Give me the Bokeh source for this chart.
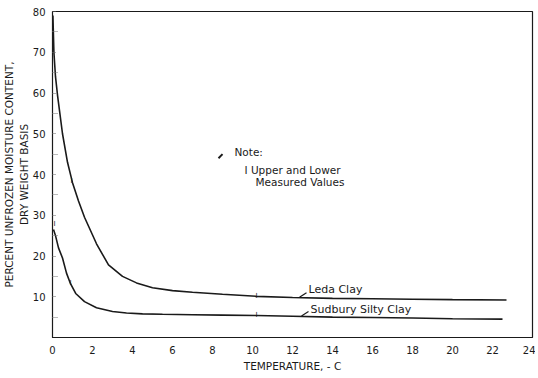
from bokeh.plotting import figure
from bokeh.models import FixedTicker, Label
from bokeh.core.properties import value
from bokeh.embed import file_html
from bokeh.resources import INLINE

# ---- data ----
leda_x = [0.02, 0.07, 0.15, 0.25, 0.5, 0.75, 1.0, 1.3, 1.6, 2.2, 2.8, 3.5, 4.2, 5.0,
          6.0, 7.0, 8.5, 10.2, 12, 14, 16, 18, 20, 22.7]
leda_y = [79, 70, 64, 59.5, 50, 43, 38, 33.5, 29.5, 23, 17.8, 15.0, 13.4, 12.2,
          11.5, 11.1, 10.6, 10.1, 9.8, 9.6, 9.5, 9.4, 9.3, 9.2]

sud_x = [0.05, 0.15, 0.3, 0.5, 0.7, 0.9, 1.16, 1.6, 2.2, 3.0, 3.7, 4.5, 5.5, 7,
         8.5, 10.2, 12, 14, 16, 18, 20, 22.5]
sud_y = [26.5, 25, 22, 19.5, 15.8, 13.2, 10.8, 8.8, 7.3, 6.4, 6.0, 5.8, 5.7, 5.6,
         5.5, 5.4, 5.2, 5.0, 4.9, 4.8, 4.6, 4.5]

# upper/lower measured value marks
bar_x = [0.1, 0.95, 0.9, 10.2, 10.2]
bar_y = [27.8, 38.5, 13.3, 10.1, 5.4]

x_ticks = [0, 2, 4, 6, 8, 10, 12, 14, 16, 18, 20, 22, 24]
y_ticks = [10, 20, 30, 40, 50, 60, 70, 80]
y_minor = [5, 15, 25, 35, 45, 55, 65, 75]

FONT = "DejaVu Sans"
INK = "#1a1a1a"

p = figure(width=535, height=374, x_range=(0, 24), y_range=(0, 80),
           output_backend="svg", toolbar_location=None,
           min_border_left=51, min_border_right=3, min_border_top=11,
           min_border_bottom=36)
p.grid.visible = False
p.outline_line_color = INK
p.outline_line_width = 1.2
p.background_fill_color = "white"
p.border_fill_color = "white"

# x axis
xa = p.xaxis[0]
xa.ticker = FixedTicker(ticks=x_ticks)
xa.axis_label = "TEMPERATURE, - C"
xa.axis_label_text_font = FONT
xa.axis_label_text_font_size = "10.5px"
xa.axis_label_text_font_style = "normal"
xa.axis_label_text_color = INK
xa.axis_label_standoff = 3
xa.major_label_text_font = FONT
xa.major_label_text_font_size = "10px"
xa.major_label_text_color = INK
xa.major_label_standoff = 8
xa.major_tick_in = 0
xa.major_tick_out = 0
xa.minor_tick_in = 0
xa.minor_tick_out = 0
xa.axis_line_color = INK

# y axis
ya = p.yaxis[0]
ya.ticker = FixedTicker(ticks=y_ticks, minor_ticks=y_minor)
ya.axis_label = "PERCENT UNFROZEN MOISTURE CONTENT,\nDRY WEIGHT BASIS"
ya.axis_label_text_font = FONT
ya.axis_label_text_font_size = "10.5px"
ya.axis_label_text_font_style = "normal"
ya.axis_label_text_color = INK
ya.axis_label_standoff = 0
ya.major_label_text_font = FONT
ya.major_label_text_font_size = "10px"
ya.major_label_text_color = INK
ya.major_label_standoff = 7
ya.major_tick_in = 4
ya.major_tick_out = 0
ya.major_tick_line_color = "#666"
ya.major_tick_line_dash = "1 1"
ya.minor_tick_in = 6
ya.minor_tick_out = 0
ya.minor_tick_line_color = "#777"
ya.minor_tick_line_dash = "1 1"
ya.axis_line_color = INK

# curves
p.line(leda_x, leda_y, line_color=INK, line_width=1.6)
p.line(sud_x, sud_y, line_color=INK, line_width=1.6)

# measured-value marks
p.text(bar_x, bar_y, text=["I"] * len(bar_x), text_font=value(FONT),
       text_font_size="7px", text_color=INK, text_align="center",
       text_baseline="middle")

# leader ticks for curve labels
p.segment(x0=[12.35, 12.45], y0=[9.9, 5.3], x1=[12.7, 12.8], y1=[11.0, 6.4],
          line_color=INK, line_width=1.2)
# note marker
p.segment(x0=[8.3], y0=[44.0], x1=[8.5], y1=[45.0], line_color=INK, line_width=2)

def lab(x, y, t, size="10.5px", align="left"):
    p.add_layout(Label(x=x, y=y, text=t, text_font=FONT, text_font_size=size,
                       text_color=INK, text_baseline="middle", text_align=align))

lab(9.1, 45.6, "Note:")
lab(9.6, 41.2, "I Upper and Lower")
lab(10.15, 38.2, "Measured Values")
lab(12.8, 11.8, "Leda Clay", "11px")
lab(12.9, 6.9, "Sudbury Silty Clay", "11px")

open("out.html", "w").write(file_html(p, INLINE))
